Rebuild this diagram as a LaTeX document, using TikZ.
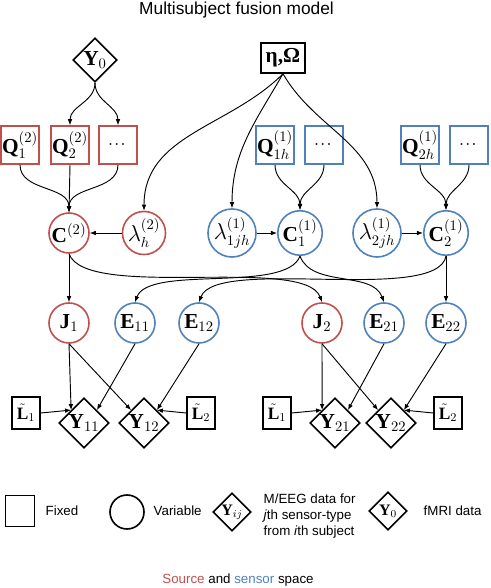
\documentclass[tikz,border=0pt]{standalone}
\usepackage{amsmath}
\usepackage{fontspec}
\setmainfont{Liberation Serif}
\setsansfont{Liberation Sans}
\usetikzlibrary{arrows.meta,shapes.geometric}

\definecolor{srcred}{HTML}{C0504D}
\definecolor{snsblue}{HTML}{4F81BD}

\newcommand{\bigmath}{\fontsize{16}{18}\selectfont}
\newcommand{\keytext}{\sffamily\fontsize{10}{12}\selectfont}
\newcommand{\moredots}{{\fontsize{9}{10}\selectfont$\boldsymbol{\cdots}$}}

\tikzset{
  fixed/.style={draw, rectangle, line width=1.2pt, minimum size=28.5pt, inner sep=0.5pt, font=\bigmath},
  srcfixed/.style={fixed, draw=srcred},
  snsfixed/.style={fixed, draw=snsblue},
  var/.style={draw, circle, line width=1.2pt, minimum size=30pt, inner sep=0pt, font=\bigmath},
  srcvar/.style={var, draw=srcred},
  snsvar/.style={var, draw=snsblue},
  data/.style={draw, diamond, aspect=1, line width=1.2pt, minimum size=37.5pt, inner sep=0pt, font=\bigmath},
  lead/.style={draw, rectangle, line width=1.2pt, minimum width=21pt, minimum height=24pt, inner sep=0pt, font=\fontsize{13}{15}\selectfont},
  arr/.style={-{Latex[length=4.5pt,width=3.5pt]}, line width=0.7pt},
}

\begin{document}
\begin{tikzpicture}[x=0.75pt,y=0.75pt]
  \useasboundingbox (0,0) rectangle (490,588);

% Title
  \node[anchor=base, font=\sffamily\fontsize{13}{15}\selectfont] (title) at (236.5,573) {Multisubject fusion model};

% Nodes
  \node[data, minimum size=33pt]   (Y0)   at (95,528)  {$\textbf{Y}_0$};
  \node[fixed, minimum width=33pt, minimum height=22.5pt] (EO) at (283,530) {\textbf{η,Ω}};

  \node[srcfixed]  (Q12)  at (20,443)  {$\textbf{Q}_1^{(2)}$};
  \node[srcfixed]  (Q22)  at (70,443)  {$\textbf{Q}_2^{(2)}$};
  \node[srcfixed]  (Qd2)  at (118,443) {\moredots};
  \node[snsfixed]  (Q1h)  at (275,443) {$\textbf{Q}_{1h}^{(1)}$};
  \node[snsfixed]  (Qd1h) at (324,443) {\moredots};
  \node[snsfixed]  (Q2h)  at (420,443) {$\textbf{Q}_{2h}^{(1)}$};
  \node[snsfixed]  (Qd2h) at (469,443) {\moredots};

  \node[srcvar]    (C2)   at (69,355)  {$\textbf{C}^{(2)}$};
  \node[srcvar]    (Lh2)  at (144,355) {$\lambda_h^{(2)}$};
  \node[snsvar]    (L1jh) at (232,355) {$\lambda_{1jh}^{(1)}$};
  \node[snsvar]    (C11)  at (300,355) {$\textbf{C}_1^{(1)}$};
  \node[snsvar]    (L2jh) at (377,355) {$\lambda_{2jh}^{(1)}$};
  \node[snsvar]    (C21)  at (446,355) {$\textbf{C}_2^{(1)}$};

  \node[srcvar]    (J1)   at (69,265)  {$\textbf{J}_1$};
  \node[snsvar]    (E11)  at (135,265) {$\textbf{E}_{11}$};
  \node[snsvar]    (E12)  at (199,265) {$\textbf{E}_{12}$};
  \node[srcvar]    (J2)   at (322,265) {$\textbf{J}_2$};
  \node[snsvar]    (E21)  at (384,265) {$\textbf{E}_{21}$};
  \node[snsvar]    (E22)  at (446,265) {$\textbf{E}_{22}$};

  \node[lead]      (L1a)  at (26,175)  {$\tilde{\textbf{L}}_1$};
  \node[data]      (Y11)  at (84,165)  {$\textbf{Y}_{11}$};
  \node[data]      (Y12)  at (144,165) {$\textbf{Y}_{12}$};
  \node[lead]      (L2a)  at (201,175) {$\tilde{\textbf{L}}_2$};
  \node[lead]      (L1b)  at (277,175) {$\tilde{\textbf{L}}_1$};
  \node[data]      (Y21)  at (335,165) {$\textbf{Y}_{21}$};
  \node[data]      (Y22)  at (391,165) {$\textbf{Y}_{22}$};
  \node[lead]      (L2b)  at (448,175) {$\tilde{\textbf{L}}_2$};

% Edges
  \draw[arr] (Y0.south)  to[out=-90,in=90] (Q22.north);
  \draw[arr] (Y0.south)  to[out=-90,in=90] (Qd2.north);
  \draw[arr] (Q12.south) to[out=-90,in=90] (C2.north);
  \draw[arr] (Q22.south) -- (C2.north);
  \draw[arr] (Qd2.south) to[out=-90,in=90] (C2.north);
  \draw[arr] (Lh2) -- (C2);

  \draw[arr] (EO.south)  to[out=-135,in=90] (Lh2.north);
  \draw[arr] (EO.south)  to[out=-120,in=90] (L1jh.north);
  \draw[arr] (EO.south)  to[out=-60,in=90]  (L2jh.north);

  \draw[arr] (Q1h.south)  to[out=-90,in=90] (C11.north);
  \draw[arr] (Qd1h.south) to[out=-90,in=90] (C11.north);
  \draw[arr] (Q2h.south)  to[out=-90,in=90] (C21.north);
  \draw[arr] (Qd2h.south) to[out=-90,in=90] (C21.north);
  \draw[arr] (L1jh) -- (C11);
  \draw[arr] (L2jh) -- (C21);

  \draw[arr] (C2.south)  -- (J1.north);
  \draw[arr] (C2.south)  to[out=-70,in=110,looseness=0.5] (J2.north);
  \draw[arr] (C11.south) to[out=-110,in=70,looseness=0.6] (E11.north);
  \draw[arr] (C11.south) to[out=-70,in=110,looseness=0.9] (E21.north);
  \draw[arr] (C21.south) to[out=-100,in=70,looseness=0.5] (E12.north);
  \draw[arr] (C21.south) -- (E22.north);

  \draw[arr] (J1.south)  -- (Y11.north west);
  \draw[arr] (J1.south)  -- (Y12.north west);
  \draw[arr] (E11.south) -- (Y11.north east);
  \draw[arr] (E12.south) -- (Y12.north east);
  \draw[arr] (L1a.east)  -- (Y11.north west);
  \draw[arr] (L2a.west)  -- (Y12.north east);

  \draw[arr] (J2.south)  -- (Y21.north west);
  \draw[arr] (J2.south)  -- (Y22.north west);
  \draw[arr] (E21.south) -- (Y21.north east);
  \draw[arr] (E22.south) -- (Y22.north east);
  \draw[arr] (L1b.east)  -- (Y21.north west);
  \draw[arr] (L2b.west)  -- (Y22.north east);

% Key
  \node[draw, rectangle, line width=1.2pt, minimum width=22pt, minimum height=23pt] (fixedkey) at (20,77) {};
  \node[anchor=west, font=\keytext] (fixedtext) at (41,77) {Fixed};
  \node[draw, circle, line width=1.2pt, minimum size=25.5pt] (varkey) at (127,76) {};
  \node[anchor=west, font=\keytext] (vartext) at (149,77) {Variable};
  \node[data, minimum size=28.5pt, font=\fontsize{12}{14}\selectfont] (megkey) at (232,76) {$\textbf{Y}_{ij}$};
  \node[anchor=west, align=left, font=\keytext] (megtext) at (259,72)
    {M/EEG data for\\\textit{j}th sensor-type\\from \textit{i}th subject};
  \node[data, minimum size=28.5pt, font=\fontsize{12}{14}\selectfont] (fmrikey) at (388,77) {$\textbf{Y}_0$};
  \node[anchor=west, font=\keytext] (fmritext) at (419,77) {fMRI data};

  \node[anchor=base, font=\keytext] (space) at (238,4)
    {{\color{srcred}Source} and {\color{snsblue}sensor} space};

\end{tikzpicture}
\end{document}
